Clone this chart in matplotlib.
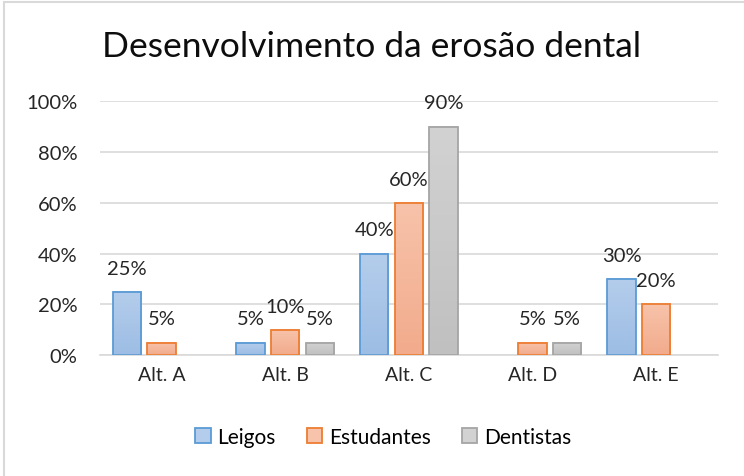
import numpy as np
import matplotlib.pyplot as plt
from matplotlib.colors import LinearSegmentedColormap
from matplotlib.patches import Patch

plt.rcParams['font.family'] = ['Lato', 'DejaVu Sans']

categorias = ['Alt. A', 'Alt. B', 'Alt. C', 'Alt. D', 'Alt. E']
series = ['Leigos', 'Estudantes', 'Dentistas']
leigos = [25, 5, 40, 0, 30]
estudantes = [5, 10, 60, 5, 20]
dentistas = [0, 5, 90, 5, 0]
valores = [leigos, estudantes, dentistas]

# (borda, topo, base) de cada série
cores = [('#5b9bd5', '#b4cdec', '#9dbde4'),
         ('#ed7d31', '#f7c3aa', '#f2ab8c'),
         ('#a5a5a5', '#d2d2d2', '#c0c0c0')]

fig = plt.figure(figsize=(7.44, 4.77), dpi=100)
ax = fig.add_axes([0.134, 0.253, 0.831, 0.533])

x = np.arange(len(categorias))
larg = 0.23
passo = 0.28

for i, (nome, vals, (borda, topo, base)) in enumerate(zip(series, valores, cores)):
    pos = x + (i - 1) * passo
    bordas = [borda if v > 0 else 'none' for v in vals]
    barras = ax.bar(pos, vals, larg, facecolor='none', edgecolor=bordas,
                    linewidth=1.3, zorder=3)
    cmap = LinearSegmentedColormap.from_list(nome, [base, topo])
    for b, v in zip(barras, vals):
        if v == 0:
            continue
        grad = np.linspace(0, 1, 64).reshape(-1, 1)
        ax.imshow(grad, cmap=cmap, origin='lower', aspect='auto', zorder=2,
                  extent=[b.get_x(), b.get_x() + b.get_width(), 0, v])
        ax.text(b.get_x() + b.get_width() / 2, v + 6.0, f'{v}%', ha='center',
                va='bottom', fontsize=14.5, color='#262626', zorder=4)

ax.set_xlim(-0.5, len(categorias) - 0.5)
ax.set_ylim(0, 100)
ax.set_yticks(range(0, 101, 20))
ax.set_yticklabels([f'{t}%' for t in range(0, 101, 20)], fontsize=14.5, color='#262626')
ax.set_xticks(x)
ax.set_xticklabels(categorias, fontsize=14, color='#262626')
ax.tick_params(length=0, pad=8)
ax.tick_params(axis='y', pad=16)
ax.grid(axis='y', color='#d9d9d9', linewidth=1.2, zorder=0)
for s in ['top', 'right', 'left']:
    ax.spines[s].set_visible(False)
ax.spines['bottom'].set_color('#d9d9d9')
ax.spines['bottom'].set_linewidth(1.2)

handles = [Patch(facecolor=topo, edgecolor=borda, linewidth=1.3, label=nome)
           for nome, (borda, topo, base) in zip(series, cores)]
fig.legend(handles=handles, loc='center', bbox_to_anchor=(0.515, 0.082), ncol=3,
           frameon=False, fontsize=15, handlelength=0.75, handleheight=0.75,
           handletextpad=0.3, columnspacing=1.5)

fig.suptitle('Desenvolvimento da erosão dental', fontsize=25.5, y=0.935, color='#0d0d0d')

# moldura do gráfico
moldura = plt.Rectangle((0.005, -0.02), 1.1, 1.013, transform=fig.transFigure,
                        fill=False, edgecolor='#d9d9d9', linewidth=1.5)
fig.patches.append(moldura)

fig.savefig('out.png', dpi=100)
